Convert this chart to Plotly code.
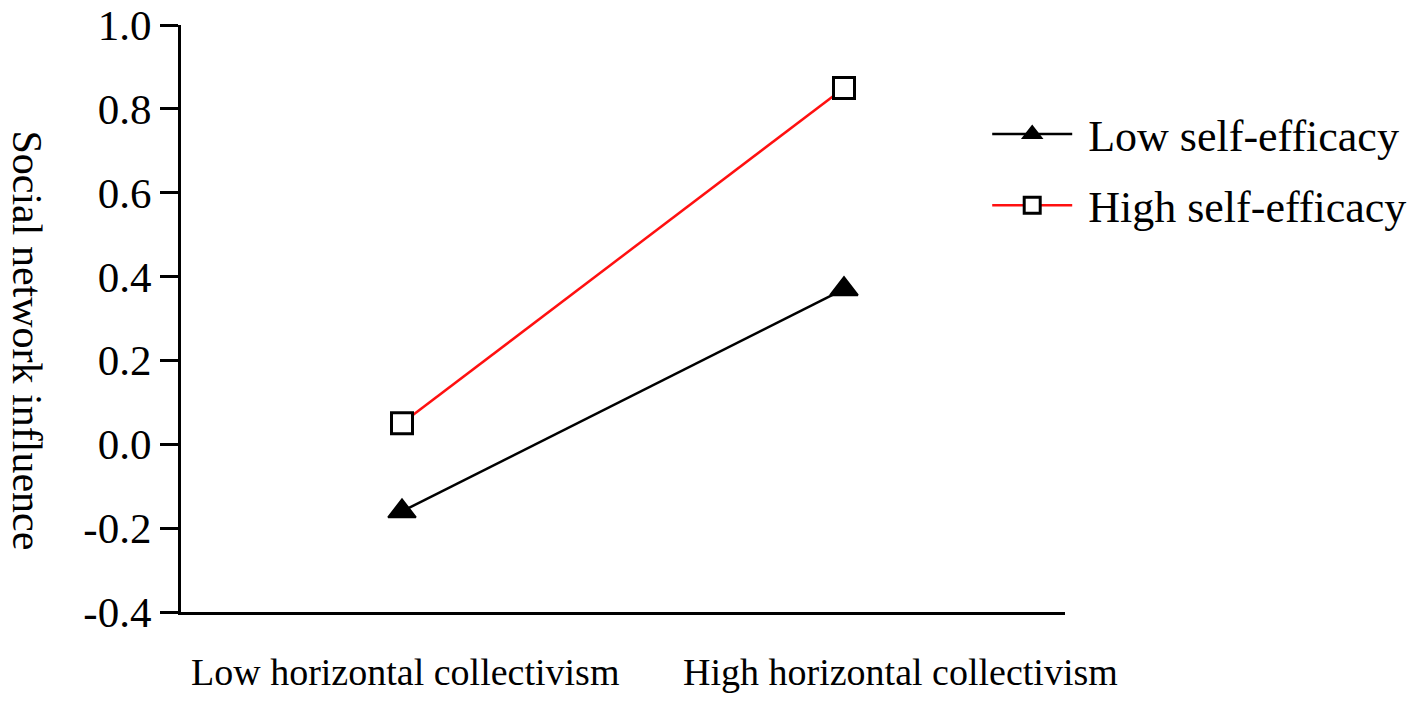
import plotly.graph_objects as go

categories = [0, 1]
category_labels = ["Low horizontal collectivism", "High horizontal collectivism"]
series_names = ["Low self-efficacy", "High self-efficacy"]
low_self_efficacy = [-0.16, 0.37]
high_self_efficacy = [0.05, 0.85]
y_ticks = [-0.4, -0.2, 0.0, 0.2, 0.4, 0.6, 0.8, 1.0]
y_title = "Social network influence"

FONT = "Liberation Serif, Times New Roman, serif"
NBSP = "\u00a0"

fig = go.Figure()
fig.add_trace(go.Scatter(
    x=categories, y=low_self_efficacy, name=NBSP + series_names[0],
    mode="lines+markers", legendgroup="low",
    line=dict(color="black", width=2.5),
    marker=dict(symbol="triangle-up", size=24, color="black", line=dict(color="black", width=2)),
))
fig.add_trace(go.Scatter(
    x=categories, y=high_self_efficacy, name=NBSP + series_names[1],
    mode="lines+markers", legendgroup="high",
    line=dict(color="#ff1010", width=2.5),
    marker=dict(symbol="square", size=21, color="white", line=dict(color="black", width=3)),
))

fig.update_layout(
    width=1417, height=701,
    margin=dict(l=181, r=352, t=25, b=89, autoexpand=False),
    paper_bgcolor="white", plot_bgcolor="white",
    font=dict(family=FONT, color="black"),
    showlegend=True,
    legend=dict(x=0.912, y=0.874, xanchor="left", yanchor="top",
                font=dict(size=44, family=FONT), itemwidth=80,
                bgcolor="rgba(0,0,0,0)", tracegroupgap=11),
    xaxis=dict(range=[-0.5, 1.5], showline=True, linecolor="black", linewidth=3,
               showgrid=False, zeroline=False, showticklabels=False, ticks="",
               automargin=False),
    yaxis=dict(range=[-0.4, 1.0], tickvals=y_ticks,
               ticktext=[f"{v:.1f}" for v in y_ticks],
               showline=True, linecolor="black", linewidth=3,
               ticks="outside", ticklen=18, tickwidth=3, tickcolor="black",
               tickfont=dict(size=43, family=FONT), ticklabeloverflow="allow",
               showgrid=False, zeroline=False, automargin=False),
)

label_x = [0.253, 0.814]
for lx, lab in zip(label_x, category_labels):
    fig.add_annotation(x=lx, y=-0.102, xref="paper", yref="paper",
                       xanchor="center", yanchor="middle",
                       text=lab, showarrow=False, font=dict(size=38, family=FONT))

fig.add_annotation(x=-0.1738, y=0.462, xref="paper", yref="paper",
                   xanchor="center", yanchor="middle", textangle=90,
                   text=y_title, showarrow=False, font=dict(size=42, family=FONT))

fig.write_html("out.html", config={"displayModeBar": False},
               post_script="document.body.style.margin='0';")
